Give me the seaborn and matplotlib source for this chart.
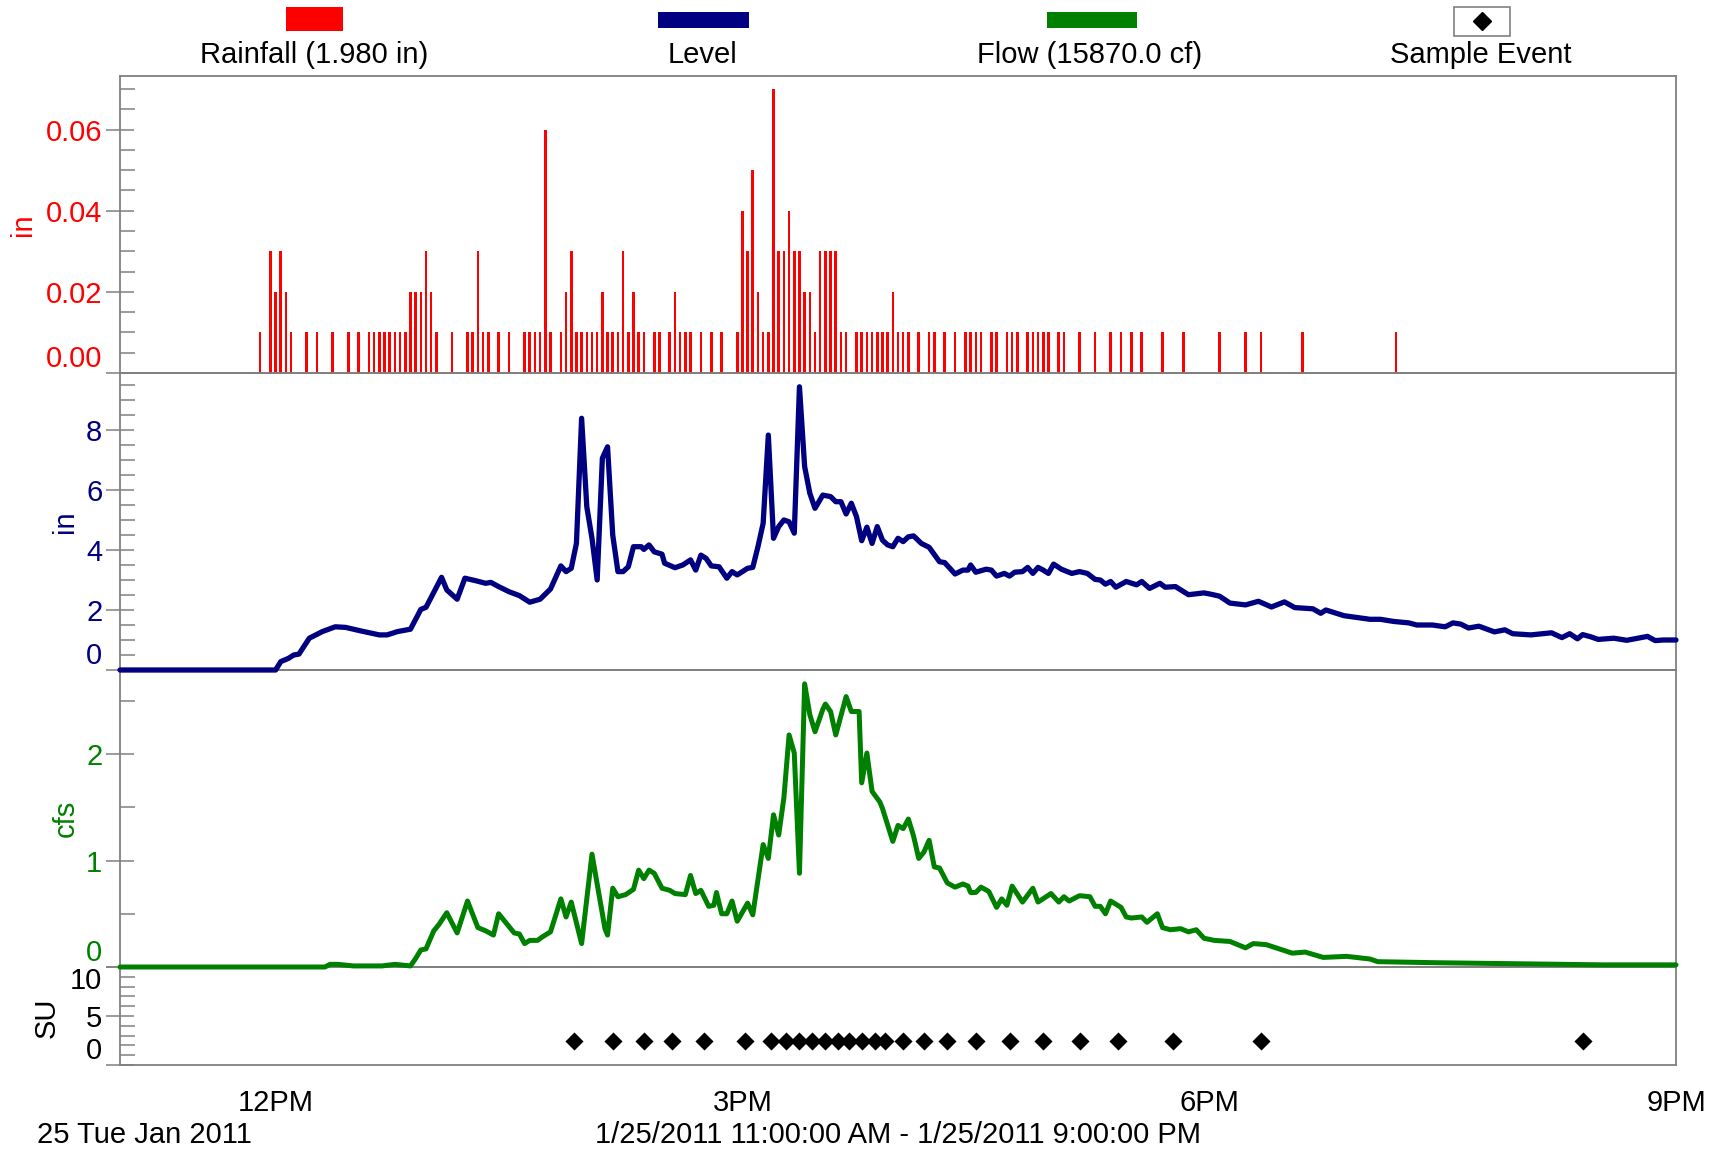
import matplotlib
matplotlib.use("Agg")
import matplotlib.pyplot as plt
from matplotlib.ticker import MultipleLocator
from matplotlib.patches import Rectangle
from matplotlib.lines import Line2D
import seaborn as sns

# ---------------- data (x = minutes after 11:00 AM, 1/25/2011) ----------------
rain_minutes = [54, 58, 60, 62, 64, 66, 72, 76, 82, 88, 92, 96, 98, 100, 102, 104, 106, 108, 110,
                112, 114, 116, 118, 120, 122, 128, 134, 136, 138, 140, 142, 146, 150, 156, 158, 160,
                162, 164, 166, 170, 172, 174, 176, 178, 180, 182, 184, 186, 188, 190, 192, 194, 196,
                198, 200, 202, 206, 208, 212, 214, 216, 218, 220, 224, 228, 232, 238, 240, 242, 244,
                246, 248, 250, 252, 254, 256, 258, 260, 262, 264, 266, 268, 270, 272, 274, 276, 278,
                280, 284, 286, 288, 290, 292, 294, 296, 298, 300, 302, 304, 308, 312, 314, 318, 322,
                326, 328, 330, 332, 336, 338, 342, 344, 346, 350, 352, 354, 356, 358, 362, 364, 370,
                376, 382, 386, 390, 394, 402, 410, 424, 434, 440, 456, 492]
rain_inches = [0.01, 0.03, 0.02, 0.03, 0.02, 0.01, 0.01, 0.01, 0.01, 0.01, 0.01, 0.01, 0.01, 0.01, 0.01,
               0.01, 0.01, 0.01, 0.01, 0.02, 0.02, 0.02, 0.03, 0.02, 0.01, 0.01, 0.01, 0.01, 0.03, 0.01,
               0.01, 0.01, 0.01, 0.01, 0.01, 0.01, 0.01, 0.06, 0.01, 0.01, 0.02, 0.03, 0.01, 0.01, 0.01,
               0.01, 0.01, 0.02, 0.01, 0.01, 0.01, 0.03, 0.01, 0.02, 0.01, 0.01, 0.01, 0.01, 0.01, 0.02,
               0.01, 0.01, 0.01, 0.01, 0.01, 0.01, 0.01, 0.04, 0.03, 0.05, 0.02, 0.01, 0.01, 0.07, 0.03,
               0.03, 0.04, 0.03, 0.03, 0.02, 0.02, 0.01, 0.03, 0.03, 0.03, 0.03, 0.01, 0.01, 0.01, 0.01,
               0.01, 0.01, 0.01, 0.01, 0.01, 0.02, 0.01, 0.01, 0.01, 0.01, 0.01, 0.01, 0.01, 0.01, 0.01,
               0.01, 0.01, 0.01, 0.01, 0.01, 0.01, 0.01, 0.01, 0.01, 0.01, 0.01, 0.01, 0.01, 0.01, 0.01,
               0.01, 0.01, 0.01, 0.01, 0.01, 0.01, 0.01, 0.01, 0.01, 0.01, 0.01, 0.01, 0.01]

level_minutes = [0, 60, 62, 65, 67, 69, 73, 78, 83, 87, 93, 100, 103, 107, 112, 116, 118, 124, 126, 130,
                 133, 137, 141, 143, 146, 150, 154, 158, 162, 166, 170, 172, 174, 176, 178, 180, 182, 184,
                 186, 188, 190, 192, 194, 196, 198, 201, 202, 204, 206, 209, 210, 214, 217, 220, 222, 224,
                 226, 228, 231, 234, 236, 238, 242, 244, 246, 248, 250, 252, 254, 256, 258, 260, 262, 264,
                 266, 268, 271, 274, 276, 278, 280, 282, 284, 286, 288, 290, 292, 294, 296, 298, 300, 302,
                 304, 306, 309, 312, 316, 318, 320, 322, 325, 327, 328, 330, 334, 336, 338, 341, 343, 345,
                 348, 350, 352, 354, 356, 358, 360, 363, 367, 370, 373, 376, 378, 380, 382, 384, 388, 392,
                 394, 397, 401, 403, 407, 412, 418, 421, 424, 428, 434, 439, 444, 449, 453, 460, 463, 465,
                 472, 482, 486, 491, 497, 500, 506, 511, 514, 517, 520, 524, 530, 534, 537, 544, 552, 556,
                 559, 562, 564, 567, 570, 576, 581, 589, 592, 595, 600]
level_inches = [0.0, 0.0, 0.28, 0.39, 0.5, 0.53, 1.06, 1.28, 1.44, 1.42, 1.3, 1.17, 1.17, 1.28, 1.36, 2.02,
                2.09, 3.09, 2.67, 2.36, 3.06, 2.98, 2.89, 2.92, 2.78, 2.61, 2.48, 2.26, 2.36, 2.7, 3.47,
                3.28, 3.39, 4.22, 8.39, 5.44, 4.39, 3.0, 7.06, 7.44, 4.5, 3.28, 3.28, 3.44, 4.11, 4.11,
                4.02, 4.17, 3.94, 3.86, 3.56, 3.41, 3.5, 3.67, 3.33, 3.83, 3.72, 3.47, 3.44, 3.06, 3.28,
                3.17, 3.39, 3.42, 4.11, 4.89, 7.83, 4.39, 4.78, 5.0, 4.94, 4.56, 9.44, 6.78, 5.89, 5.39,
                5.83, 5.78, 5.61, 5.61, 5.2, 5.56, 5.11, 4.31, 4.76, 4.22, 4.78, 4.33, 4.17, 4.11, 4.39,
                4.28, 4.44, 4.47, 4.22, 4.09, 3.61, 3.58, 3.39, 3.2, 3.33, 3.33, 3.5, 3.26, 3.36, 3.33,
                3.13, 3.22, 3.13, 3.26, 3.28, 3.42, 3.22, 3.42, 3.33, 3.22, 3.53, 3.36, 3.22, 3.28, 3.22,
                3.02, 3.0, 2.86, 2.95, 2.76, 2.95, 2.84, 2.95, 2.72, 2.89, 2.76, 2.78, 2.51, 2.57, 2.52,
                2.46, 2.23, 2.17, 2.29, 2.1, 2.27, 2.08, 2.04, 1.89, 2.0, 1.81, 1.69, 1.69, 1.62, 1.57,
                1.5, 1.5, 1.44, 1.57, 1.53, 1.4, 1.46, 1.27, 1.34, 1.21, 1.17, 1.24, 1.08, 1.21, 1.04,
                1.18, 1.11, 1.02, 1.06, 0.99, 1.12, 0.98, 1.0, 1.0]

flow_minutes = [0, 79, 81, 84, 90, 101, 106, 112, 114, 116, 118, 121, 123, 126, 130, 134, 138, 141, 144,
                146, 149, 152, 154, 156, 158, 161, 163, 166, 170, 172, 174, 178, 182, 187, 188, 190, 192,
                195, 198, 200, 202, 204, 206, 209, 212, 214, 218, 220, 222, 224, 227, 229, 230, 232, 234,
                236, 238, 242, 244, 248, 250, 252, 254, 256, 258, 260, 262, 264, 266, 268, 271, 272, 274,
                276, 280, 282, 285, 286, 288, 290, 293, 294, 298, 300, 302, 304, 306, 308, 310, 312, 314,
                316, 319, 322, 325, 327, 328, 330, 332, 335, 338, 340, 342, 344, 348, 352, 354, 359, 362,
                364, 366, 370, 374, 376, 378, 380, 382, 386, 388, 390, 394, 396, 400, 402, 405, 409, 412,
                415, 418, 422, 428, 434, 437, 442, 447, 452, 457, 464, 473, 482, 485, 508, 540, 572, 600]
flow_cfs = [0.0, 0.0, 0.025, 0.025, 0.01, 0.01, 0.025, 0.01, 0.08, 0.16, 0.17, 0.34, 0.4, 0.51, 0.32,
            0.62, 0.37, 0.34, 0.3, 0.5, 0.41, 0.32, 0.31, 0.22, 0.25, 0.25, 0.285, 0.33, 0.64, 0.47,
            0.61, 0.22, 1.06, 0.36, 0.3, 0.74, 0.66, 0.68, 0.73, 0.91, 0.83, 0.91, 0.88, 0.74, 0.72,
            0.69, 0.68, 0.86, 0.69, 0.72, 0.57, 0.58, 0.7, 0.5, 0.5, 0.62, 0.43, 0.6, 0.49, 1.15, 1.02,
            1.43, 1.24, 1.59, 2.18, 2.01, 0.88, 2.66, 2.37, 2.21, 2.42, 2.47, 2.4, 2.18, 2.54, 2.4, 2.4,
            1.73, 2.01, 1.65, 1.55, 1.49, 1.18, 1.33, 1.3, 1.39, 1.23, 1.02, 1.08, 1.19, 0.94, 0.93,
            0.79, 0.75, 0.78, 0.76, 0.7, 0.7, 0.75, 0.71, 0.56, 0.64, 0.58, 0.76, 0.61, 0.74, 0.61,
            0.69, 0.61, 0.66, 0.62, 0.67, 0.66, 0.57, 0.57, 0.5, 0.62, 0.56, 0.47, 0.46, 0.47, 0.42,
            0.5, 0.37, 0.35, 0.36, 0.33, 0.35, 0.27, 0.25, 0.24, 0.18, 0.22, 0.21, 0.17, 0.13, 0.14,
            0.09, 0.1, 0.075, 0.05, 0.04, 0.03, 0.02, 0.02]

sample_minutes = [175, 190, 202, 213, 225, 241, 251, 257, 262, 267, 272, 277, 281, 286, 291, 295, 302,
                  310, 319, 330, 343, 356, 370, 385, 406, 440, 564]
sample_su = [2.4, 2.4, 2.4, 2.4, 2.4, 2.4, 2.4, 2.4, 2.4, 2.4, 2.4, 2.4, 2.4, 2.4, 2.4, 2.4, 2.4,
             2.4, 2.4, 2.4, 2.4, 2.4, 2.4, 2.4, 2.4, 2.4, 2.4]

x_tick_minutes = [60, 240, 420, 600]
x_tick_labels = ["12PM", "3PM", "6PM", "9PM"]
legend_labels = ["Rainfall (1.980 in)", "Level", "Flow (15870.0 cf)", "Sample Event"]
rain_ticks = [0.0, 0.02, 0.04, 0.06]
level_ticks = [0, 2, 4, 6, 8]
flow_ticks = [0, 1, 2]
su_ticks = [0, 5, 10]

# ---------------- style ----------------
RED, NAVY, GREEN, GRAY = "#ff0000", "#000080", "#008000", "#808080"
FS = 21
sns.set_theme(style="white")
plt.rcParams["font.family"] = ["Liberation Sans", "DejaVu Sans"]

W, H = 1720, 1153
fig = plt.figure(figsize=(W / 100, H / 100), dpi=100)
fig.patch.set_facecolor("white")
gs = fig.add_gridspec(4, 1, height_ratios=[297, 297, 297, 98], hspace=0,
                      left=120 / W, right=1676 / W, top=1 - 76 / H, bottom=1 - 1065 / H)
ax_r, ax_l, ax_f, ax_s = [fig.add_subplot(gs[i]) for i in range(4)]
# upper panels drawn last so their thick lines sit on top of the shared boundaries
for z, ax in zip([4, 3, 2, 1], [ax_r, ax_l, ax_f, ax_s]):
    ax.set_zorder(z)

# rainfall bars (2-minute totals)
sns.histplot(x=rain_minutes, weights=rain_inches, binwidth=2, binrange=(-1, 601), shrink=0.5,
             color=RED, alpha=1, linewidth=0, ax=ax_r)
# level & flow
sns.lineplot(x=level_minutes, y=level_inches, color=NAVY, linewidth=3.8, errorbar=None,
             ax=ax_l, clip_on=False, solid_joinstyle="round", zorder=3)
sns.lineplot(x=flow_minutes, y=flow_cfs, color=GREEN, linewidth=3.6, errorbar=None,
             ax=ax_f, clip_on=False, solid_joinstyle="round", zorder=3)
# sample events
sns.scatterplot(x=sample_minutes, y=sample_su, marker="D", s=85, color="black",
                linewidth=0, ax=ax_s, zorder=3)


def style_axis(ax, ylim, majors, fmt, minor_step, color, label, lab_x, lab_y):
    ax.set_facecolor("none")
    ax.set_xlim(0, 600)
    ax.set_ylim(*ylim)
    ax.set_yticks(majors, labels=[fmt.format(v) for v in majors])
    ax.yaxis.set_minor_locator(MultipleLocator(minor_step))
    ax.tick_params(axis="y", which="major", direction="inout", length=19.5, width=1.1,
                   color=GRAY, labelcolor=color, labelsize=FS, pad=3, left=True, right=False)
    ax.tick_params(axis="y", which="minor", direction="in", length=10.5, width=1.1,
                   color=GRAY, left=True, right=False)
    ax.set_xlabel("")
    ax.set_ylabel(label, color=color, fontsize=FS, va="center", ha="center")
    ax.yaxis.set_label_coords(lab_x, lab_y)
    for sp in ax.spines.values():
        sp.set_color(GRAY)
        sp.set_linewidth(1.3)
        sp.set_visible(True)


style_axis(ax_r, (0, 0.0732), rain_ticks, "{:.2f}", 0.005, RED, "in", -0.0626, 0.5)
style_axis(ax_l, (0, 9.9), level_ticks, "{:d}", 0.5, NAVY, "in", -0.0355, 0.5)
style_axis(ax_f, (0, 2.79), flow_ticks, "{:d}", 0.5, GREEN, "cfs", -0.035, 0.5)
style_axis(ax_s, (0, 10), su_ticks, "{:d}", 1, "black", "SU", -0.047, 0.48)

for ax in (ax_r, ax_l, ax_f):
    ax.tick_params(axis="x", which="both", bottom=False, top=False, labelbottom=False)

ax_s.set_xticks(x_tick_minutes, labels=x_tick_labels)
ax_s.xaxis.set_minor_locator(MultipleLocator(60))
ax_s.tick_params(axis="x", which="major", direction="inout", length=24, width=1.1, color=GRAY,
                 labelsize=FS, labelcolor="black", pad=5, top=False)
ax_s.tick_params(axis="x", which="minor", direction="in", length=8, width=1.1, color=GRAY, top=False)

# edge tick labels nudged inside their panel, as in the original
for ax in (ax_r, ax_l, ax_f, ax_s):
    ax.get_yticklabels()[0].set_va("bottom")
ax_s.get_yticklabels()[-1].set_va("top")


# ---------------- legend strip (figure coordinates in pixels) ----------------
def fx(px):
    return px / W


def fy(py):
    return 1 - py / H


fig.add_artist(Rectangle((fx(286), fy(31)), (343 - 286) / W, (31 - 7) / H, transform=fig.transFigure,
                         facecolor=RED, edgecolor="none"))
fig.add_artist(Rectangle((fx(658), fy(28)), (749 - 658) / W, (28 - 12) / H, transform=fig.transFigure,
                         facecolor=NAVY, edgecolor="none"))
fig.add_artist(Rectangle((fx(1047), fy(28)), (1137 - 1047) / W, (28 - 12) / H, transform=fig.transFigure,
                         facecolor=GREEN, edgecolor="none"))
fig.add_artist(Rectangle((fx(1454), fy(36)), (1510 - 1454) / W, (36 - 7) / H, transform=fig.transFigure,
                         facecolor="white", edgecolor=GRAY, linewidth=1.2))
fig.add_artist(Line2D([fx(1482)], [fy(21)], transform=fig.transFigure, marker="D", markersize=9.5,
                      color="black", linestyle="none"))
for cx, txt in zip([314, 703, 1090, 1481], legend_labels):
    fig.text(fx(cx), fy(63), txt, ha="center", va="baseline", fontsize=FS, color="black")

# footer
fig.text(fx(37), fy(1143), "25 Tue Jan 2011", ha="left", va="baseline", fontsize=FS, color="black")
fig.text(fx(898), fy(1143), "1/25/2011 11:00:00 AM - 1/25/2011 9:00:00 PM", ha="center",
         va="baseline", fontsize=FS, color="black")

fig.savefig("out.png", dpi=100, facecolor="white")
